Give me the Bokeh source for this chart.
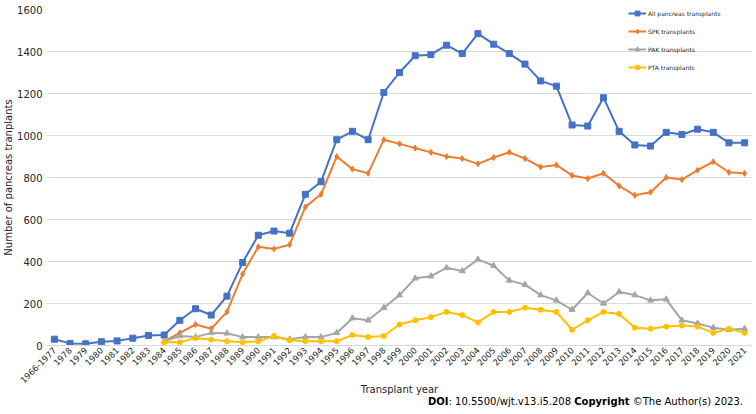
import math
from bokeh.plotting import figure
from bokeh.layouts import column
from bokeh.models import FactorRange, Range1d, FixedTicker, Legend, LegendItem, Div
from bokeh.embed import file_html
from bokeh.resources import INLINE

years = ["1966-1977"] + [str(y) for y in range(1978, 2022)]
years_late = [str(y) for y in range(1984, 2022)]

all_pancreas = [30, 10, 8, 18, 22, 35, 48, 50, 120, 175, 145, 235, 395, 525, 545, 535,
                720, 780, 980, 1020, 980, 1205, 1300, 1380, 1385, 1430, 1390, 1485, 1435,
                1390, 1340, 1260, 1235, 1050, 1045, 1180, 1020, 955, 950, 1015, 1005, 1030,
                1015, 965, 965]
spk = [20, 60, 100, 80, 160, 340, 470, 460, 480, 660, 720, 900, 840, 820, 980, 960, 940,
       920, 900, 890, 865, 895, 920, 890, 850, 860, 810, 795, 820, 760, 715, 730, 800, 790,
       835, 875, 825, 820]
pak = [20, 45, 40, 60, 58, 40, 40, 40, 30, 40, 40, 60, 130, 120, 180, 240, 320, 330, 370,
       355, 410, 380, 310, 290, 240, 215, 170, 250, 200, 255, 240, 215, 220, 120, 105, 85,
       75, 80]
pta = [15, 15, 35, 28, 20, 15, 20, 45, 25, 20, 20, 20, 50, 40, 45, 100, 120, 135, 160, 145,
       110, 160, 160, 180, 170, 160, 75, 120, 160, 150, 85, 80, 90, 95, 90, 60, 80, 60]

y_ticks = [0, 200, 400, 600, 800, 1000, 1200, 1400, 1600]

FONT = "DejaVu Sans"
TXT = "#262626"

FRAME_W, FRAME_H = 706, 336

p = figure(frame_width=FRAME_W, frame_height=FRAME_H, x_range=FactorRange(factors=years),
           y_range=Range1d(0, 1600), output_backend="svg", toolbar_location=None,
           min_border_left=10, min_border_right=0, min_border_top=9, min_border_bottom=10)
p.outline_line_color = None
p.xgrid.grid_line_color = None
p.ygrid.grid_line_color = "#D9D9D9"
p.ygrid.grid_line_width = 1

p.yaxis.ticker = FixedTicker(ticks=y_ticks)
p.yaxis.axis_line_color = None
p.yaxis.major_tick_line_color = None
p.yaxis.minor_tick_line_color = None
p.yaxis.major_tick_out = 0
p.yaxis.major_tick_in = 0
p.yaxis.minor_tick_out = 0
p.yaxis.major_label_text_font = FONT
p.yaxis.major_label_text_font_size = "10px"
p.yaxis.major_label_text_color = TXT
p.yaxis.major_label_standoff = 4
p.yaxis.axis_label = "Number of pancreas tranplants"
p.yaxis.axis_label_text_font = FONT
p.yaxis.axis_label_text_font_size = "10px"
p.yaxis.axis_label_text_font_style = "normal"
p.yaxis.axis_label_text_color = TXT
p.yaxis.axis_label_standoff = 0

p.xaxis.axis_line_color = "#D9D9D9"
p.xaxis.major_tick_line_color = None
p.xaxis.minor_tick_line_color = None
p.xaxis.major_tick_out = 0
p.xaxis.major_tick_in = 0
p.xaxis.minor_tick_out = 0
p.xaxis.major_label_orientation = math.pi / 4
p.xaxis.major_label_text_font = FONT
p.xaxis.major_label_text_font_size = "8.5px"
p.xaxis.major_label_text_color = TXT
p.xaxis.major_label_standoff = 3
p.xaxis.axis_label = "Transplant year"
p.xaxis.axis_label_text_font = FONT
p.xaxis.axis_label_text_font_size = "10px"
p.xaxis.axis_label_text_font_style = "normal"
p.xaxis.axis_label_text_color = TXT
p.xaxis.axis_label_standoff = -5

series = [
    ("All pancreas transplants", years, all_pancreas, "#4472C4", "square", 6),
    ("SPK transplants", years_late, spk, "#ED7D31", "diamond", 6),
    ("PAK transplants", years_late, pak, "#A5A5A5", "triangle", 6),
    ("PTA transplants", years_late, pta, "#FFC000", "circle", 5),
]
items = []
for name, xs, ys, col, mk, sz in series:
    l = p.line(xs, ys, line_color=col, line_width=2)
    m = p.scatter(xs, ys, marker=mk, size=sz, fill_color=col, line_color=col)
    items.append(LegendItem(label=name, renderers=[l, m]))

legend = Legend(items=items, location=(582, FRAME_H + 2 - 66), glyph_width=18, glyph_height=12,
                spacing=6, padding=0, margin=0, label_standoff=2,
                label_text_font=FONT, label_text_font_size="6px",
                label_text_color=TXT, background_fill_alpha=0, border_line_color=None)
p.add_layout(legend)

doi = Div(text="<b>DOI</b>: 10.5500/wjt.v13.i5.208 <b>Copyright</b> \u00a9The Author(s) 2023.",
          width=740, height=14, margin=(-3, 0, 0, 3),
          styles={"font-family": FONT, "font-size": "10px", "color": "#000000",
                  "text-align": "right", "padding-right": "0px", "line-height": "14px",
                  "box-sizing": "border-box", "width": "740px"})

layout = column(p, doi, spacing=0)
open("out.html", "w").write(file_html(layout, INLINE))
